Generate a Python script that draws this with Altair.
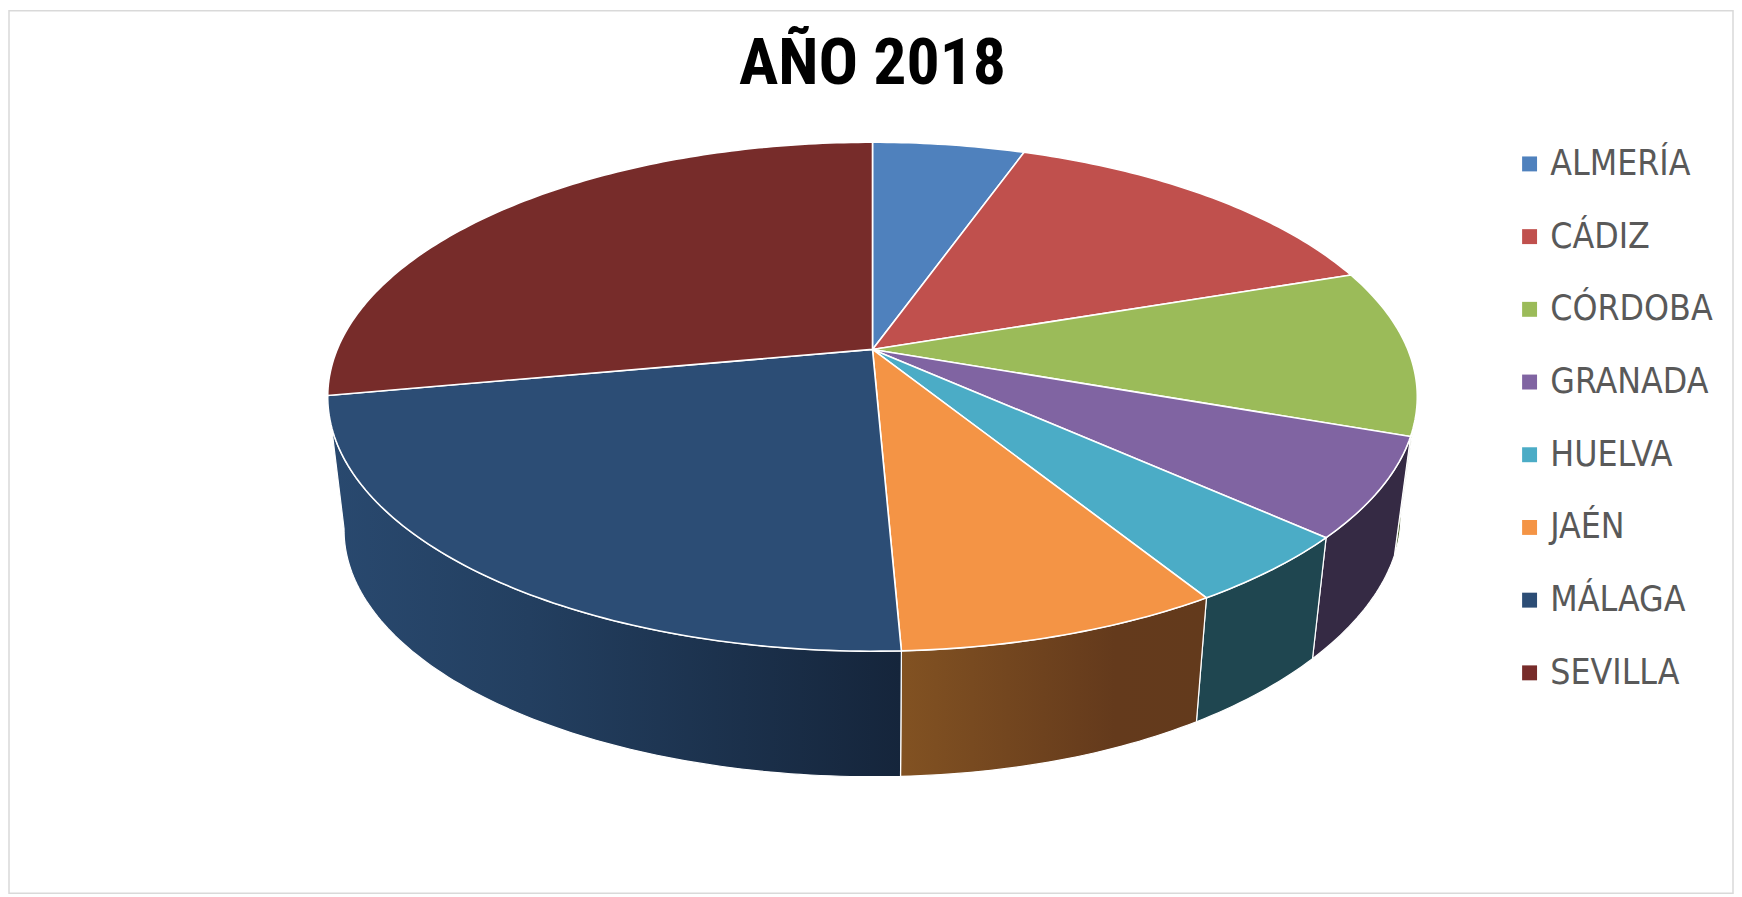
import math
import altair as alt

provinces = ["ALMERÍA", "CÁDIZ", "CÓRDOBA", "GRANADA", "HUELVA", "JAÉN", "MÁLAGA", "SEVILLA"]
shares = [5.4, 14.4, 10.6, 6.3, 4.5, 8.1, 22.8, 27.9]
top_colors = ["#4f81bd", "#c0504d", "#9bbb59", "#8064a2", "#4bacc6", "#f49445", "#2c4d75", "#772c2a"]
title_text = ["AÑO 2018"]

# pie geometry (perspective view of a disc), in pixels of the plot area
CX, CY = 867, 340
T, B = 208, 303
C = (B - T) / (B + T)
K = T * (1 + C)
R = 547 * math.sqrt(1 - C * C)
SHRINK = 0.97
VANISH = 4504 / R
SKEW = 13 / R
VIS_START, VIS_END = 28.0, 72.1


def rim(pct, bottom=False):
    t = math.radians(pct * 3.6)
    x, y = math.sin(t), math.cos(t)
    d = C * y + 1
    u, v = x / d, -(K / R) * y / d
    if bottom:
        skew = SKEW * max(u, 0) ** 3
        u, v = u * SHRINK, VANISH + (v - VANISH) * SHRINK - skew
    return [u, v]


def arc(p0, p1, bottom=False):
    n = max(2, int(abs(p1 - p0) * 4))
    return [rim(p0 + (p1 - p0) * i / n, bottom) for i in range(n + 1)]


def feature(name, ring):
    return {"type": "Feature", "properties": {"name": name},
            "geometry": {"type": "Polygon", "coordinates": [ring + [ring[0]]]}}


cum = [0.0]
for s in shares:
    cum.append(cum[-1] + s)

tops = [feature(n, [[0.0, 0.0]] + arc(cum[i], cum[i + 1])) for i, n in enumerate(provinces)]

proj = dict(type="identity", scale=R, translate=[CX, CY])


def grad(stops):
    return alt.Gradient(gradient="linear", x1=0, x2=1, y1=0, y2=0,
                        stops=[alt.GradientStop(offset=o, color=c) for o, c in stops])


wall_fills = {
    "CÓRDOBA": "#4e6130",
    "GRANADA": "#352a44",
    "HUELVA": "#1f4650",
    "JAÉN": grad([(0, "#825222"), (0.7, "#643a1c"), (1, "#633a1c")]),
    "MÁLAGA": grad([(0, "#29496f"), (0.35, "#233f60"), (1, "#15253b")]),
}

frame = (
    alt.Chart(alt.Data(values=[{"f": 1}]))
    .mark_rect(fill="white", stroke="#d9d9d9", strokeWidth=1.5)
    .encode(x=alt.value(0), x2=alt.value(1731), y=alt.value(0), y2=alt.value(886))
)

layers = [frame]
for i, n in enumerate(provinces):
    if n not in wall_fills:
        continue
    p0, p1 = max(cum[i], VIS_START), min(cum[i + 1], VIS_END)
    ring = arc(p0, p1) + arc(p1, p0, bottom=True)
    layers.append(
        alt.Chart(alt.Data(values=[feature(n, ring)]))
        .mark_geoshape(fill=wall_fills[n], stroke="white", strokeWidth=1.2)
        .project(**proj)
    )

legend = alt.Legend(
    title=None, orient="none", legendX=1509, legendY=136, symbolType="square",
    symbolSize=225, symbolStrokeWidth=0, labelFont="DejaVu Sans Condensed, Liberation Sans",
    labelFontSize=35.5, labelColor="#595959", labelLimit=300, labelOffset=3,
    rowPadding=36, padding=0,
)

top_layer = (
    alt.Chart(alt.Data(values=tops))
    .mark_geoshape(stroke="white", strokeWidth=1.6)
    .encode(color=alt.Color("properties.name:N",
                            scale=alt.Scale(domain=provinces, range=top_colors),
                            sort=provinces, legend=legend))
    .project(**proj)
)
layers.append(top_layer)

title = (
    alt.Chart(alt.Data(values=[{"t": t} for t in title_text]))
    .mark_text(align="center", baseline="alphabetic", font="Roboto Condensed, Liberation Sans",
               fontSize=66, fontWeight="bold", color="#000000")
    .encode(text="t:N", x=alt.value(867), y=alt.value(74))
)
layers.append(title)

chart = (
    alt.layer(*layers)
    .properties(
        width=1731, height=886,
        padding={"left": 1, "top": 1, "right": 1, "bottom": 1},
        autosize=alt.AutoSizeParams(type="none"),
        background="white",
    )
    .configure_view(stroke=None)
)
chart.save("out.html", embed_options={"renderer": "svg", "actions": False})
